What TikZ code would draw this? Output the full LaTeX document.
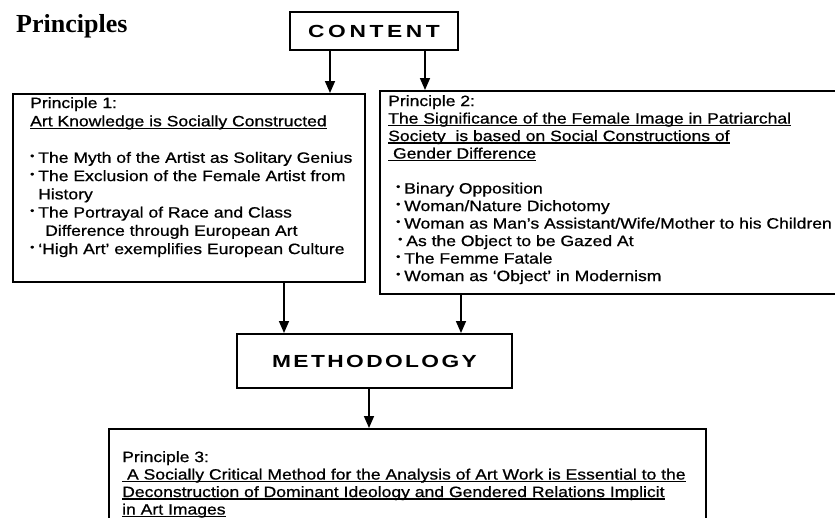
\documentclass[tikz,border=0pt]{standalone}
\usepackage{fontspec}
\setmainfont{Liberation Sans}[FakeStretch=1.17,FakeBold=0.8]
\newfontfamily\capsfont{Liberation Sans}[FakeStretch=1.3]
\newfontfamily\titlefont{Liberation Serif}
\usetikzlibrary{arrows.meta}
\newcommand\ulx[1]{\leavevmode\setbox0\hbox{#1}\rlap{\rule[-2.6pt]{\wd0}{1.4pt}}\box0}
\newcommand\bul{\raisebox{3.6pt}{\fontsize{10}{10}\selectfont\textbullet}\hspace{4pt}}
\begin{document}
\begin{tikzpicture}[x=1pt,y=-1pt,
  box/.style={draw, line width=1.8pt, inner sep=0pt, anchor=north west},
  hbox/.style={draw, line width=2pt, inner sep=0pt, font=\capsfont\bfseries\fontsize{17.5}{17.5}\selectfont},
  arr/.style={line width=1.6pt, -{Triangle[width=10pt,length=12pt]}},
  txt/.style={anchor=north west, inner sep=0pt, align=left}]
\useasboundingbox (0,0) rectangle (835,517);
\clip (0,0) rectangle (835,517);
% title
\node[anchor=base west, inner sep=0pt, font=\titlefont\bfseries\fontsize{26}{26}\selectfont] (title) at (16,32) {Principles};
% heading boxes
\node[hbox, minimum width=168pt, minimum height=38pt] (content) at (374,31) {C\kern3.6pt O\kern3.6pt N\kern3.6pt T\kern3.6pt E\kern3.6pt N\kern3.6pt T};
\node[hbox, minimum width=275pt, minimum height=54pt] (meth) at (374.5,361) {M\kern2.4pt E\kern2.4pt T\kern2.4pt H\kern2.4pt O\kern2.4pt D\kern2.4pt O\kern2.4pt L\kern2.4pt O\kern2.4pt G\kern2.4pt Y};
% principle boxes
\node[box, minimum width=352pt, minimum height=188pt] (p1) at (12,93) {};
\node[box, minimum width=480pt, minimum height=203pt] (p2) at (379,90) {};
\node[box, minimum width=597pt, minimum height=120pt] (p3) at (108,428) {};
% texts
\node[txt, font=\fontsize{15}{18.25}\selectfont] (t1) at (30,97) {Principle 1:\\
\ulx{Art Knowledge is Socially Constructed}\\[18.25pt]%
\bul The Myth of the Artist as Solitary Genius\\
\bul The Exclusion of the Female Artist from\\
\hspace*{8pt}History\\
\bul The Portrayal of Race and Class\\
\hspace*{15pt}Difference through European Art\\
\bul `High Art' exemplifies European Culture};
\node[txt, font=\fontsize{15}{17.5}\selectfont] (t2) at (388,95) {Principle 2:\\
\ulx{The Significance of the Female Image in Patriarchal}\\
\ulx{Society\ \ is based on Social Constructions of}\\
\ulx{\ Gender Difference}\\[17.5pt]%
\hspace*{8pt}\bul Binary Opposition\\
\hspace*{8pt}\bul Woman/Nature Dichotomy\\
\hspace*{8pt}\bul Woman as Man's Assistant/Wife/Mother to his Children\\
\hspace*{10pt}\bul As the Object to be Gazed At\\
\hspace*{8pt}\bul The Femme Fatale\\
\hspace*{8pt}\bul Woman as `Object' in Modernism};
\node[txt, font=\fontsize{15}{17.5}\selectfont] (t3) at (122,451) {Principle 3:\\
\ulx{\ A Socially Critical Method for the Analysis of Art Work is Essential to the}\\
\ulx{Deconstruction of Dominant Ideology and Gendered Relations Implicit}\\
\ulx{in Art Images}};
% connectors
\coordinate (xa) at (330,0);
\coordinate (xb) at (425,0);
\coordinate (xc) at (284,0);
\coordinate (xd) at (461,0);
\coordinate (xe) at (369,0);
\draw[arr] (content.south -| xa) -- (p1.north -| xa);
\draw[arr] (content.south -| xb) -- (p2.north -| xb);
\draw[arr] (p1.south -| xc) -- (meth.north -| xc);
\draw[arr] (p2.south -| xd) -- (meth.north -| xd);
\draw[arr] (meth.south -| xe) -- (p3.north -| xe);
\end{tikzpicture}
\end{document}
